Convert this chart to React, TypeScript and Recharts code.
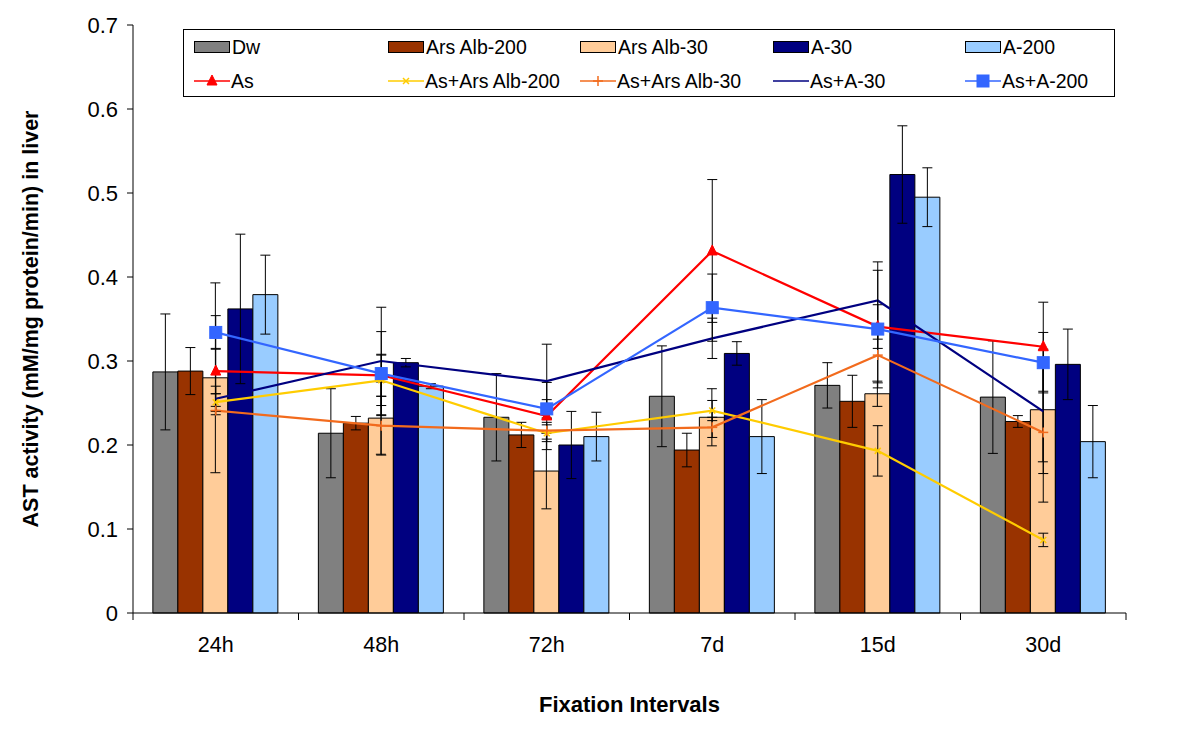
import React from 'react';
import { ComposedChart, Bar, Line, XAxis, YAxis, ErrorBar } from 'recharts';

const categories = ['24h', '48h', '72h', '7d', '15d', '30d'];
const yTicks = [0, 0.1, 0.2, 0.3, 0.4, 0.5, 0.6, 0.7];

// Bar series
const dw = [0.287, 0.214, 0.233, 0.258, 0.271, 0.257];
const dwErr = [0.069, 0.053, 0.052, 0.06, 0.027, 0.067];
const arsAlb200 = [0.288, 0.226, 0.212, 0.194, 0.252, 0.228];
const arsAlb200Err = [0.028, 0.008, 0.015, 0.02, 0.031, 0.007];
const arsAlb30 = [0.28, 0.232, 0.169, 0.233, 0.261, 0.242];
const arsAlb30Err = [0.113, 0.043, 0.045, 0.034, 0.015, 0.062];
const a30 = [0.362, 0.298, 0.2, 0.309, 0.522, 0.296];
const a30Err = [0.089, 0.005, 0.04, 0.014, 0.058, 0.042];
const a200 = [0.379, 0.27, 0.21, 0.21, 0.495, 0.204];
const a200Err = [0.047, 0.003, 0.029, 0.044, 0.035, 0.043];

// Line series
const as = [0.288, 0.283, 0.2345, 0.431, 0.341, 0.317];
const asErr = [0.027, 0.025, 0.04, 0.085, 0.026, 0.053];
const asArs200 = [0.251, 0.277, 0.214, 0.241, 0.193, 0.087];
const asArs200Err = [0.01, 0.03, 0.01, 0.012, 0.03, 0.008];
const asArs30 = [0.241, 0.223, 0.217, 0.221, 0.307, 0.215];
const asArs30Err = [0.005, 0.035, 0.01, 0.012, 0.033, 0.083];
const asA30 = [0.255, 0.3, 0.276, 0.327, 0.372, 0.24];
const asA30Err = [0.015, 0.064, 0.044, 0.024, 0.046, 0.074];
const asA200 = [0.334, 0.285, 0.243, 0.3635, 0.338, 0.298];
const asA200Err = [0.02, 0.05, 0.011, 0.04, 0.07, 0.036];

const barSeries = [
  { key: 'dw', name: 'Dw', color: '#808080', values: dw, errs: dwErr },
  { key: 'arsAlb200', name: 'Ars Alb-200', color: '#993300', values: arsAlb200, errs: arsAlb200Err },
  { key: 'arsAlb30', name: 'Ars Alb-30', color: '#FFCC99', values: arsAlb30, errs: arsAlb30Err },
  { key: 'a30', name: 'A-30', color: '#000080', values: a30, errs: a30Err },
  { key: 'a200', name: 'A-200', color: '#99CCFF', values: a200, errs: a200Err },
];

const lineSeries = [
  { key: 'as', name: 'As', color: '#FF0000', marker: 'triangle', values: as, errs: asErr },
  { key: 'asArs200', name: 'As+Ars Alb-200', color: '#FFCC00', marker: 'x', values: asArs200, errs: asArs200Err },
  { key: 'asArs30', name: 'As+Ars Alb-30', color: '#F26B1D', marker: 'plus', values: asArs30, errs: asArs30Err },
  { key: 'asA30', name: 'As+A-30', color: '#000080', marker: 'none', values: asA30, errs: asA30Err },
  { key: 'asA200', name: 'As+A-200', color: '#3366FF', marker: 'square', values: asA200, errs: asA200Err },
];

const data = categories.map((cat, i) => {
  const row: any = { cat };
  barSeries.forEach((s) => {
    row[s.key] = s.values[i];
    row[s.key + 'Err'] = s.errs[i];
  });
  lineSeries.forEach((s) => {
    row[s.key] = s.values[i];
    row[s.key + 'Err'] = s.errs[i];
  });
  return row;
});

const FONT = '"Liberation Sans", Arial, sans-serif';
const X_TICK_MARGIN = 24;

function markerShape(marker: string, color: string, cx: number, cy: number, key?: any) {
  if (cx == null || cy == null) return <g key={key} />;
  if (marker === 'triangle') {
    return (
      <polygon key={key} points={`${cx},${cy - 6} ${cx + 5},${cy + 4} ${cx - 5},${cy + 4}`} fill={color} stroke={color} />
    );
  }
  if (marker === 'square') {
    return <rect key={key} x={cx - 6} y={cy - 6} width={12} height={12} fill={color} stroke={color} />;
  }
  if (marker === 'x') {
    return (
      <g key={key} stroke={color} strokeWidth={1.5}>
        <line x1={cx - 3} y1={cy - 3} x2={cx + 3} y2={cy + 3} />
        <line x1={cx - 3} y1={cy + 3} x2={cx + 3} y2={cy - 3} />
      </g>
    );
  }
  if (marker === 'plus') {
    return (
      <g key={key} stroke={color} strokeWidth={1.5}>
        <line x1={cx - 5} y1={cy} x2={cx + 5} y2={cy} />
        <line x1={cx} y1={cy - 5} x2={cx} y2={cy + 5} />
      </g>
    );
  }
  return <g key={key} />;
}

// Category tick: label at the band centre, tick marks at band boundaries
function CategoryTick(props: any) {
  const { x, y, payload, index, visibleTicksCount } = props;
  const half = payload && typeof payload.offset === 'number' && payload.offset > 0 ? payload.offset : 0;
  const axisY = y - X_TICK_MARGIN;
  const isLast = visibleTicksCount != null ? index === visibleTicksCount - 1 : index === categories.length - 1;
  return (
    <g>
      <line x1={x - half} y1={axisY} x2={x - half} y2={axisY + 7} stroke="#000" strokeWidth={1} />
      {isLast && <line x1={x + half} y1={axisY} x2={x + half} y2={axisY + 7} stroke="#000" strokeWidth={1} />}
      <text x={x} y={y} dy="0.71em" textAnchor="middle" fill="#000" fontSize={21.5} fontFamily={FONT}>
        {payload.value}
      </text>
    </g>
  );
}

const legendCols = [10, 204, 396, 589, 781];

function LegendBox() {
  return (
    <div
      style={{
        position: 'absolute',
        left: 183,
        top: 29,
        width: 932,
        height: 68,
        border: '1px solid #000',
        boxSizing: 'border-box',
        background: '#fff',
        fontFamily: FONT,
        fontSize: 19.5,
        color: '#000',
      }}
    >
      {barSeries.map((s, i) => (
        <div key={s.key} style={{ position: 'absolute', left: legendCols[i], top: 5, height: 24, display: 'flex', alignItems: 'center' }}>
          <div style={{ width: 34, height: 10, background: s.color, border: '1px solid #000', marginRight: 2 }} />
          <span>{s.name}</span>
        </div>
      ))}
      {lineSeries.map((s, i) => (
        <div key={s.key} style={{ position: 'absolute', left: legendCols[i], top: 39, height: 24, display: 'flex', alignItems: 'center' }}>
          <svg width={36} height={16} style={{ marginRight: 1 }}>
            <line x1={0} y1={8} x2={36} y2={8} stroke={s.color} strokeWidth={1.5} />
            {markerShape(s.marker, s.color, 18, 8)}
          </svg>
          <span>{s.name}</span>
        </div>
      ))}
    </div>
  );
}

export default function App() {
  return (
    <div style={{ position: 'absolute', left: 0, top: 0, width: 1187, height: 729, background: '#fff' }}>
      <ComposedChart
        width={1187}
        height={729}
        data={data}
        margin={{ top: 25, right: 61, left: 0, bottom: 0 }}
        barCategoryGap="12%"
        barGap={0}
        style={{ fontFamily: FONT }}
      >
        <XAxis
          dataKey="cat"
          height={116}
          axisLine={{ stroke: '#000', strokeWidth: 1 }}
          tickLine={false}
          tickSize={0}
          tickMargin={X_TICK_MARGIN}
          interval={0}
          tick={<CategoryTick />}
          label={{ value: 'Fixation Intervals', position: 'insideBottom', offset: 17, fill: '#000', fontSize: 22, fontWeight: 'bold', fontFamily: FONT }}
        />
        <YAxis
          width={133}
          domain={[0, 0.7]}
          ticks={yTicks}
          tickFormatter={(v: number) => (v === 0 ? '0' : v.toFixed(1))}
          tickSize={6}
          tickMargin={9}
          axisLine={{ stroke: '#000', strokeWidth: 1 }}
          tickLine={{ stroke: '#000', strokeWidth: 1 }}
          tick={{ fill: '#000', fontSize: 22, fontFamily: FONT }}
          label={{
            value: 'AST activity (mM/mg protein/min) in liver',
            angle: -90,
            position: 'insideLeft',
            offset: 30,
            fill: '#000',
            fontSize: 21.5,
            fontWeight: 'bold',
            fontFamily: FONT,
            style: { textAnchor: 'middle' },
          }}
        />
        {barSeries.map((s) => (
          <Bar key={s.key} dataKey={s.key} name={s.name} fill={s.color} stroke="#000" strokeWidth={1} isAnimationActive={false}>
            <ErrorBar dataKey={s.key + 'Err'} direction="y" width={5} stroke="#000" strokeWidth={1} />
          </Bar>
        ))}
        {lineSeries.map((s) => (
          <Line
            key={s.key}
            dataKey={s.key}
            name={s.name}
            stroke={s.color}
            strokeWidth={2.2}
            isAnimationActive={false}
            activeDot={false}
            dot={s.marker === 'none' ? false : (p: any) => markerShape(s.marker, s.color, p.cx, p.cy, p.key ?? `${s.key}-${p.index}`)}
          >
            <ErrorBar dataKey={s.key + 'Err'} direction="y" width={5} stroke="#000" strokeWidth={1} />
          </Line>
        ))}
      </ComposedChart>
      <LegendBox />
    </div>
  );
}
